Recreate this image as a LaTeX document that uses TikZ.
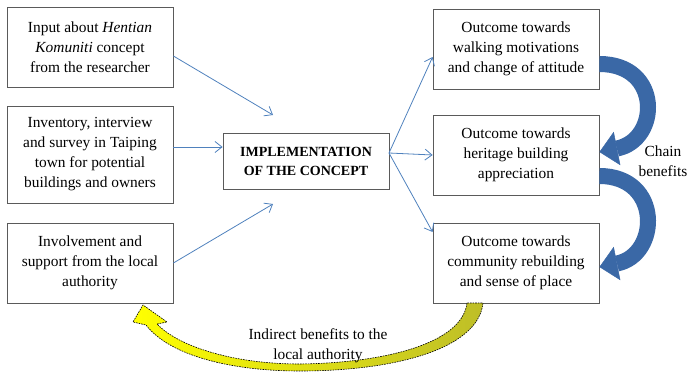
\documentclass[tikz,border=0pt]{standalone}
\usepackage{fontspec}
\setmainfont{Liberation Serif}
\usetikzlibrary{arrows.meta}
\definecolor{linkblue}{RGB}{79,129,189}
\definecolor{chainblue}{RGB}{58,104,166}
\definecolor{boxgray}{RGB}{90,90,90}
\definecolor{benefitolive}{RGB}{190,190,40}

\begin{document}
\begin{tikzpicture}[x=1pt,y=-1pt]
    \tikzstyle{box}=[draw=boxgray,line width=0.8pt,minimum width=166pt,minimum height=80pt,inner sep=0pt,align=center,font=\fontsize{15.4}{20}\selectfont]
    \tikzstyle{link}=[draw=linkblue,line width=0.8pt,-{Straight Barb[length=7pt,width=11pt]}]
    \tikzstyle{chain}=[draw=chainblue,line width=16pt,-{Triangle[length=18pt,width=34pt,line width=0.5pt]}]
    \useasboundingbox (0,0) rectangle (689,372);

    % inputs
    \node[box] (input) at (90,47) {Input about \textit{Hentian}\\\textit{Komuniti} concept\\from the researcher};
    \node[box,minimum height=97pt] (survey) at (90,154.5) {Inventory, interview\\and survey in Taiping\\town for potential\\buildings and owners};
    \node[box] (support) at (90,263) {Involvement and\\support from the local\\authority};

    \node[box,minimum height=56pt,font=\fontsize{14}{19}\selectfont\bfseries] (impl) at (306,161) {IMPLEMENTATION\\OF THE CONCEPT};

    % outcomes
    \foreach \name/\y/\txt in {walk/49/{Outcome towards\\walking motivations\\and change of attitude},
                               heritage/155/{Outcome towards\\heritage building\\appreciation},
                               community/263/{Outcome towards\\community rebuilding\\and sense of place}}
        \node[box] (\name) at (516,\y) {\txt};

    \coordinate (above) at (273,115);
    \coordinate (below) at (273,204);
    \coordinate (fork) at (389,153);

    \draw[link] ([yshift=-9]input.east) -- (above);
    \draw[link] (survey.east |- 0,147) -- (impl.west |- 0,147);
    \draw[link] (support.east) -- (below);
    \foreach \to/\y in {walk/57, heritage/155, community/232}
        \draw[link] (fork) -- (\to.west |- 0,\y);

    % chain benefits
    \draw[chain] ([yshift=-15]walk.east) .. controls (662,64) and (660,140) .. ([yshift=3]heritage.east);
    \draw[chain] ([yshift=-21]heritage.east) .. controls (662,176) and (660,255) .. ([yshift=-4]community.east);
    \node[font=\fontsize{15.4}{20}\selectfont,align=center] (chaintxt) at (663,161) {Chain\\benefits};

    % indirect benefits
    \path[draw=black,line width=0.6pt,dash pattern=on 1.6pt off 1pt,left color=yellow,right color=benefitolive]
        (467,303) .. controls (462,345) and (380,363) .. (300,364)
        .. controls (232,364) and (178,346) .. (157,324)
        -- (167,322) -- (143,305) -- (133,322) -- (146,325)
        .. controls (170,356) and (232,371) .. (300,371)
        .. controls (392,371) and (478,350) .. (483,303) -- cycle;
    \node[font=\fontsize{15.4}{20}\selectfont,align=center] (indirect) at (318,346) {Indirect benefits to the\\local authority};
\end{tikzpicture}
\end{document}
